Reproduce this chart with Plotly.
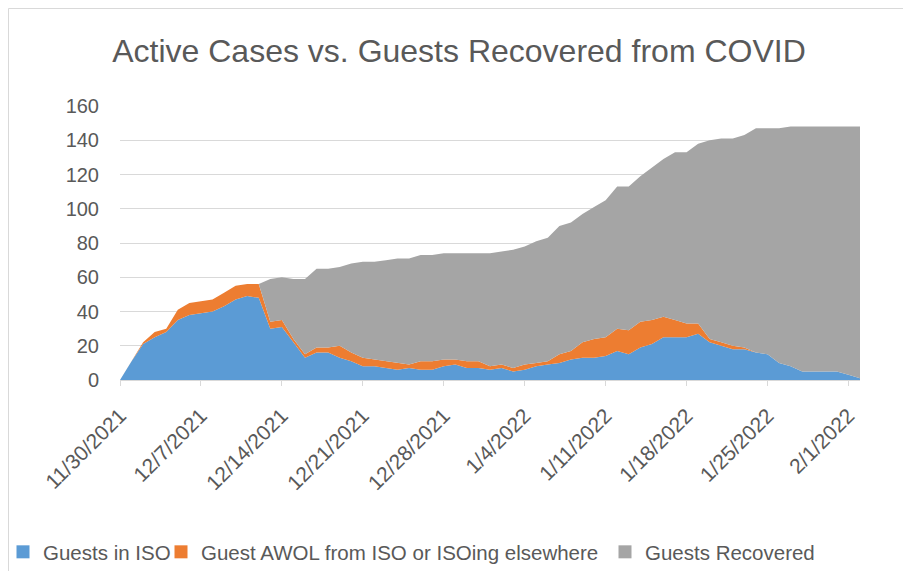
import pandas as pd
import plotly.graph_objects as go

# ---- data ----
start_date = "2021-11-30"
n_days = 65
dates = pd.date_range(start_date, periods=n_days, freq="D")

guests_in_iso = [0, 11, 21, 25, 28, 35, 38, 39, 40, 43, 47, 49, 48, 30, 31, 22, 13, 16, 16, 13,
                 11, 8, 8, 7, 6, 7, 6, 6, 8, 9, 7, 7, 6, 7, 5, 6, 8, 9, 10, 12,
                 13, 13, 14, 17, 15, 19, 21, 25, 25, 25, 27, 22, 20, 18, 18, 16, 15, 10, 8, 5,
                 5, 5, 5, 3, 1]
guest_awol = [0, 0, 1, 3, 2, 6, 7, 7, 7, 8, 8, 7, 8, 4, 4, 2, 2, 3, 3, 7,
              5, 5, 4, 4, 4, 2, 5, 5, 4, 3, 4, 4, 2, 2, 2, 3, 2, 2, 5, 5,
              9, 11, 11, 13, 14, 15, 14, 12, 10, 8, 6, 2, 2, 2, 1, 0, 0, 0, 0, 0,
              0, 0, 0, 0, 0]
guests_recovered = [0, 0, 0, 0, 0, 0, 0, 0, 0, 0, 0, 0, 0, 25, 25, 35, 44, 46, 46, 46,
                    52, 56, 57, 59, 61, 62, 62, 62, 62, 62, 63, 63, 66, 66, 69, 69, 71, 72, 75, 75,
                    75, 77, 80, 83, 84, 85, 89, 92, 98, 100, 105, 116, 119, 121, 124, 131, 132, 137, 140, 143,
                    143, 143, 143, 145, 147]

series_names = ["Guests in ISO", "Guest AWOL from ISO or ISOing elsewhere", "Guests Recovered"]
series_colors = ["#5B9BD5", "#ED7D31", "#A5A5A5"]

tick_dates = ["2021-11-30", "2021-12-07", "2021-12-14", "2021-12-21", "2021-12-28",
              "2022-01-04", "2022-01-11", "2022-01-18", "2022-01-25", "2022-02-01"]
tick_labels = ["11/30/2021", "12/7/2021", "12/14/2021", "12/21/2021", "12/28/2021",
               "1/4/2022", "1/11/2022", "1/18/2022", "1/25/2022", "2/1/2022"]
y_ticks = [0, 20, 40, 60, 80, 100, 120, 140, 160]

title_text = "Active Cases vs. Guests Recovered from COVID"

# ---- figure ----
FONT = "Liberation Sans, Arial, sans-serif"
TXT = "#595959"
GRID = "#D9D9D9"

fig = go.Figure()
for name, vals, col in zip(series_names, [guests_in_iso, guest_awol, guests_recovered], series_colors):
    fig.add_trace(go.Scatter(
        x=dates, y=vals, name=name, mode="lines", stackgroup="one",
        line=dict(width=0, color=col), fillcolor=col, showlegend=False,
    ))

# the page adds an 8px body margin; figure coordinates = screen - 8
W, H = 903, 563
L, R, T, B = 112, 51, 98, 191
pw, ph = W - L - R, H - T - B

def px_x(p):
    return (p - L) / pw

def px_y(p):
    return (H - B - p) / ph

# legend swatches (square markers like the original), one legend box per entry
legend_ids = ["legend", "legend2", "legend3"]
legend_left = [-5, 153, 597]
for name, col, lid in zip(series_names, series_colors, legend_ids):
    fig.add_trace(go.Scatter(
        x=[None], y=[None], name=name, mode="markers", legend=lid,
        marker=dict(symbol="square", size=13, color=col), showlegend=True,
    ))

legend_common = dict(orientation="h", xanchor="left", y=px_y(544), yanchor="middle",
                     font=dict(size=20.5, color=TXT), bgcolor="rgba(0,0,0,0)", itemwidth=30)

fig.update_layout(
    width=W, height=H,
    margin=dict(l=L, r=R, t=T, b=B, autoexpand=False),
    paper_bgcolor="white", plot_bgcolor="white",
    font=dict(family=FONT, color=TXT, size=20),
    title=dict(text=title_text, font=dict(family=FONT, size=32, color=TXT),
               x=451 / W, xref="container", xanchor="center",
               y=1 - 43 / H, yref="container", yanchor="middle"),
    showlegend=True,
    legend=dict(x=px_x(legend_left[0]), **legend_common),
    legend2=dict(x=px_x(legend_left[1]), **legend_common),
    legend3=dict(x=px_x(legend_left[2]), **legend_common),
    xaxis=dict(
        type="date", range=[dates[0], dates[-1]],
        tickvals=pd.to_datetime(tick_dates), ticktext=tick_labels, tickangle=-45,
        showgrid=False, showline=True, linecolor=GRID, linewidth=1,
        ticks="outside", ticklen=5, tickcolor=GRID, tickwidth=1,
        tickfont=dict(size=21, color=TXT), ticklabelstandoff=9,
        automargin=False, zeroline=False,
    ),
    yaxis=dict(
        range=[0, 160], tickvals=y_ticks, showgrid=True, gridcolor=GRID, gridwidth=1,
        showline=False, zeroline=False, ticks="", tickfont=dict(size=20, color=TXT),
        ticklabelstandoff=20, automargin=False,
    ),
    shapes=[dict(type="rect", xref="paper", yref="paper",
                 x0=px_x(0.5), x1=px_x(901), y0=px_y(600), y1=px_y(0.5),
                 line=dict(color=GRID, width=1), fillcolor="rgba(0,0,0,0)", layer="below")],
)

fig.write_html("out.html")
